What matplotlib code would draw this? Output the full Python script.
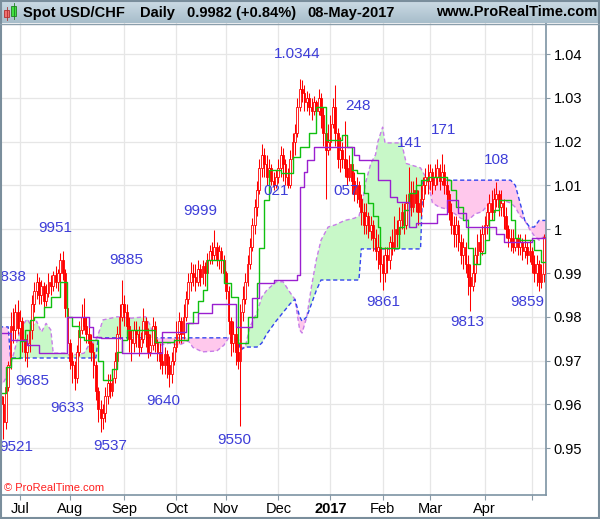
import numpy as np
import matplotlib
matplotlib.use('Agg')
import matplotlib.pyplot as plt
from matplotlib.patches import Rectangle
from matplotlib.colors import LinearSegmentedColormap
import pandas as pd

plt.rcParams['font.family'] = ['Liberation Sans', 'DejaVu Sans']

# ---------------- data (prices in 1e-4 units) ----------------
dates = pd.bdate_range('2016-06-20', '2017-05-08')

opens = [9650,9620,9600,9560,9640,9690,9780,9770,9810,9775,
         9790,9750,9720,9740,9770,9830,9860,9880,9850,9870,
         9835,9855,9880,9870,9895,9880,9900,9930,9900,9820,
         9740,9700,9690,9660,9720,9770,9800,9780,9760,9740,
         9720,9690,9630,9590,9570,9580,9620,9650,9630,9660,
         9700,9760,9800,9830,9810,9780,9750,9740,9770,9760,
         9730,9750,9790,9760,9720,9735,9780,9740,9720,9700,
         9690,9715,9690,9670,9700,9730,9760,9790,9760,9800,
         9840,9880,9900,9890,9880,9910,9890,9915,9900,9930,
         9950,9940,9960,9930,9950,9930,9900,9860,9790,9740,
         9760,9720,9700,9810,9840,9880,9920,9960,10010,10050,
         10090,10140,10170,10150,10120,10140,10110,10100,10120,10140,
         10170,10150,10120,10100,10160,10200,10220,10280,10320,10310,
         10290,10300,10280,10270,10290,10270,10300,10260,10220,10180,
         10200,10240,10280,10220,10160,10180,10160,10140,10120,10150,
         10110,10080,10100,10070,10040,10010,10030,9995,10010,9980,
         9950,9960,9920,9900,9940,9930,9970,9960,10000,9990,
         10020,10040,10010,10060,10080,10050,10090,10060,10040,10070,
         10100,10120,10110,10130,10100,10120,10140,10110,10130,10100,
         10080,10040,10010,9990,10010,9970,9940,9960,9920,9890,
         9870,9900,9940,9970,9950,9990,10010,10040,10060,10040,
         10070,10080,10050,10060,10030,10000,9980,9970,9960,9980,
         9960,9970,9950,9960,9940,9950,9920,9900,9920,9880,
         9897]
closes = [9620,9600,9560,9640,9690,9780,9770,9810,9775,9790,
          9750,9720,9740,9770,9830,9860,9880,9850,9870,9835,
          9855,9880,9870,9895,9880,9900,9930,9900,9820,9740,
          9700,9690,9660,9720,9770,9800,9780,9760,9740,9720,
          9690,9630,9590,9570,9580,9620,9650,9630,9660,9700,
          9760,9800,9830,9810,9780,9750,9740,9770,9760,9730,
          9750,9790,9760,9720,9735,9780,9740,9720,9700,9690,
          9715,9690,9670,9700,9730,9760,9790,9760,9800,9840,
          9880,9900,9890,9880,9910,9890,9915,9900,9930,9950,
          9940,9960,9930,9950,9930,9900,9860,9790,9740,9760,
          9720,9700,9810,9840,9880,9920,9960,10010,10050,10090,
          10140,10170,10150,10120,10140,10110,10100,10120,10140,10170,
          10150,10120,10100,10160,10200,10220,10280,10320,10310,10290,
          10300,10280,10270,10290,10270,10300,10260,10220,10180,10200,
          10240,10280,10220,10160,10180,10160,10140,10120,10150,10110,
          10080,10100,10070,10040,10010,10030,9995,10010,9980,9950,
          9960,9920,9900,9940,9930,9970,9960,10000,9990,10020,
          10040,10010,10060,10080,10050,10090,10060,10040,10070,10100,
          10120,10110,10130,10100,10120,10140,10110,10130,10100,10080,
          10040,10010,9990,10010,9970,9940,9960,9920,9890,9870,
          9900,9940,9970,9950,9990,10010,10040,10060,10040,10070,
          10080,10050,10060,10030,10000,9980,9970,9960,9980,9960,
          9970,9950,9960,9940,9950,9920,9900,9920,9880,9897,
          9982]
highs = [9665,9640,9620,9660,9700,9810,9820,9830,9838,9815,
         9800,9765,9760,9785,9850,9880,9900,9890,9885,9880,
         9875,9900,9895,9905,9915,9910,9945,9951,9910,9830,
         9750,9720,9700,9735,9790,9830,9843,9800,9790,9760,
         9740,9700,9640,9610,9600,9640,9670,9670,9680,9720,
         9780,9830,9885,9850,9830,9800,9770,9790,9790,9780,
         9765,9820,9800,9775,9760,9800,9790,9750,9740,9720,
         9730,9725,9710,9720,9750,9790,9810,9800,9830,9860,
         9900,9925,9920,9920,9930,9920,9930,9925,9945,9965,
         9970,9999,9970,9965,9960,9940,9905,9870,9800,9790,
         9780,9750,9830,9870,9900,9940,9980,10025,10070,10110,
         10160,10195,10185,10170,10160,10150,10130,10135,10160,10190,
         10185,10160,10140,10180,10220,10240,10300,10344,10340,10330,
         10315,10310,10300,10305,10295,10320,10310,10280,10250,10240,
         10260,10300,10330,10230,10210,10200,10248,10160,10170,10160,
         10130,10120,10110,10080,10060,10060,10040,10030,10020,10000,
         9990,9970,9940,9960,9960,9985,10000,10030,10020,10050,
         10060,10060,10080,10141,10110,10110,10120,10090,10100,10120,
         10140,10150,10150,10140,10150,10160,10150,10171,10150,10120,
         10090,10060,10030,10030,10020,9990,9980,9970,9940,9920,
         9930,9960,9990,10000,10010,10030,10060,10080,10090,10095,
         10108,10090,10090,10070,10050,10010,10000,10000,9995,9990,
         9990,9980,9990,9970,9975,9960,9940,9940,9930,9920,
         9990]
lows = [9600,9580,9521,9545,9630,9680,9740,9750,9760,9740,
        9720,9700,9685,9720,9750,9810,9840,9830,9830,9820,
        9825,9845,9850,9860,9865,9860,9880,9885,9800,9720,
        9680,9650,9633,9650,9710,9760,9770,9740,9720,9700,
        9660,9610,9560,9537,9545,9560,9600,9615,9620,9650,
        9690,9750,9790,9780,9760,9720,9700,9720,9730,9710,
        9720,9740,9730,9705,9710,9725,9720,9700,9680,9670,
        9670,9660,9640,9650,9690,9720,9740,9740,9750,9790,
        9830,9860,9870,9860,9870,9870,9875,9870,9890,9920,
        9920,9930,9915,9910,9900,9880,9840,9760,9710,9720,
        9690,9680,9550,9790,9830,9870,9910,9950,9990,10030,
        10080,10120,10120,10100,10105,10100,10090,10095,10105,10120,
        10110,10100,10095,10095,10140,10170,10210,10270,10290,10270,
        10270,10260,10250,10260,10250,10260,10230,10190,10070,10170,
        10180,10230,10190,10140,10130,10140,10120,10100,10110,10080,
        10065,10060,10050,10010,9990,9990,9980,9975,9950,9930,
        9910,9880,9861,9880,9900,9910,9940,9950,9960,9980,
        10000,9990,10000,10040,10030,10040,10040,10010,10030,10050,
        10080,10080,10090,10080,10090,10100,10090,10100,10080,10060,
        10020,9990,9960,9960,9950,9920,9910,9900,9850,9813,
        9860,9880,9920,9930,9940,9970,9990,10020,10020,10030,
        10050,10030,10030,10000,9980,9960,9950,9945,9950,9940,
        9940,9930,9935,9920,9925,9900,9880,9870,9859,9865,
        9880]

# Ichimoku lines (bar index, value)
tenkan_idx = [0,3,5,9,11,13,15,19,22,26,29,31,34,36,42,44,48,50,52,54,66,74,80,82,84,86,88,95,98,101,
              105,109,110,112,114,119,124,127,131,134,138,145,147,149,151,154,156,158,160,161,169,171,173,
              176,178,181,189,191,193,196,198,200,203,205,207,209,211,216,218,220,226,229,231]
tenkan_val = [.9625,.9685,.9706,.9745,.9770,.9793,.9800,.9822,.9845,.9879,.9800,.9780,.9754,.9747,.9700,
              .9656,.9680,.9720,.9747,.9770,.9742,.9747,.9786,.9810,.9835,.9861,.9930,.9877,.9845,.9740,
              .9800,.9877,.9957,1.0067,1.0135,1.0128,1.0165,1.0188,1.0220,1.0279,1.0204,1.0215,1.0188,
              1.0135,1.0128,1.0083,1.0060,1.0030,1.0005,.9957,1.0005,1.0044,1.0083,1.0100,1.0112,1.0119,
              1.0112,1.0090,1.0050,1.0020,.9956,.9920,.9945,.9975,1.0020,1.0045,1.0067,1.0020,.9980,.9975,
              .9953,.9925,.9925]
kijun_idx = [0,5,12,17,29,38,40,43,52,69,79,84,90,100,107,110,116,126,127,129,130,133,150,152,160,165,
             168,173,176,185,189,194,197,210,213,225,231]
kijun_val = [.9763,.9747,.9735,.9717,.9800,.9777,.9754,.9752,.9717,.9765,.9786,.9808,.9829,.9777,.9843,
             .9877,.9884,.9895,1.0096,1.0130,1.0158,1.0188,1.0170,1.0158,1.0112,1.0074,1.0063,1.0005,
             1.0014,1.0035,1.0067,1.0037,1.0005,.9990,.9971,.9980,.9980]
cloud_idx = [0,2,4,5,6,8,10,12,14,16,18,20,22,23,28,30,36,38,41,42,44,50,56,62,64,66,68,72,76,80,82,86,
             92,95,97,101,102,104,106,109,111,113,117,120,123,125,127,128,130,132,134,136,139,142,146,150,
             152,153,155,157,159,160,162,163,170,172,178,179,181,183,186,190,195,198,201,204,207,212,216,
             218,220,222,224,226,228,231]
span_a = [.9638,.9650,.9670,.9690,.9710,.9750,.9780,.9795,.9777,.9790,.9765,.9785,.9770,.9717,.9717,.9712,
          .9717,.9735,.9747,.9760,.9793,.9800,.9797,.9800,.9780,.9745,.9735,.9740,.9735,.9745,.9730,.9720,
          .9722,.9735,.9752,.9745,.9730,.9730,.9777,.9810,.9845,.9860,.9880,.9880,.9855,.9840,.9770,.9763,
          .9800,.9870,.9930,.9975,1.0005,1.0010,1.0020,1.0025,1.0030,1.0050,1.0110,1.0150,1.0170,1.0200,
          1.0233,1.0197,1.0197,1.0150,1.0140,1.0130,1.0112,1.0060,1.0050,1.0045,1.0025,1.0020,1.0035,
          1.0040,1.0060,1.0067,1.0060,1.0050,1.0030,1.0020,1.0000,.9985,.9975,.9987]
span_b = [.9777,.9777,.9777,.9706,.9706,.9706,.9706,.9706,.9706,.9706,.9706,.9706,.9706,.9706,.9706,.9706,
          .9706,.9706,.9706,.9752,.9752,.9752,.9752,.9752,.9752,.9752,.9752,.9752,.9752,.9752,.9752,.9752,
          .9752,.9752,.9752,.9752,.9724,.9731,.9731,.9731,.9740,.9760,.9790,.9810,.9830,.9840,.9800,.9790,
          .9800,.9830,.9860,.9884,.9884,.9884,.9884,.9884,.9884,.9955,.9955,.9955,.9955,.9955,.9955,.9955,
          .9955,.9955,.9955,1.0112,1.0112,1.0112,1.0112,1.0112,1.0112,1.0112,1.0112,1.0112,1.0112,1.0112,
          1.0112,1.0100,1.0060,1.0020,1.0005,1.0005,1.0020,1.0020]

# swing labels: text, bar index, price, alignment
swing_text = ['9838','9951','9685','9633','9521','9537','9885','9640','9999','9550','1.0344',
              '021','057','248','141','171','9861','108','9813','9859']
swing_idx = [11.5,23.8,14.0,28.8,7.3,47.0,53.7,69.3,84.9,99.3,125.9,117.0,146.5,151.6,173.5,187.9,
             162.2,210.3,197.6,222.9]
swing_price = [.9891,1.0003,.96534,.95918,.95027,.9505,.99297,.96078,1.00416,.95187,1.0400,1.00872,
               1.00872,1.02813,1.01968,1.02265,.98338,1.0158,.97881,.98338]
swing_ha = ['right'] + ['center'] * 19

month_labels = ['Jul','Aug','Sep','Oct','Nov','Dec','2017','Feb','Mar','Apr','']
y_ticks = [0.95,0.96,0.97,0.98,0.99,1.00,1.01,1.02,1.03,1.04]
y_labels = ['0.95','0.96','0.97','0.98','0.99','1','1.01','1.02','1.03','1.04']

# ---------------- figure ----------------
W, H = 600, 519
fig = plt.figure(figsize=(W/100, H/100), dpi=100)
fig.patch.set_facecolor('white')

ax = fig.add_axes([0, 24/H, 546/W, 472/H])
ax.set_xlim(0.55, 230.93)
ax.set_ylim(0.93932, 1.04708)

o = np.array(opens)/1e4; c = np.array(closes)/1e4
h = np.array(highs)/1e4; l = np.array(lows)/1e4
idx = np.arange(len(c))

# cloud
ci = np.array(cloud_idx, float); sa = np.array(span_a); sb = np.array(span_b)
ax.fill_between(ci, sa, sb, where=sa >= sb, interpolate=True, color='#c8f8c8', lw=0, zorder=1)
ax.fill_between(ci, sa, sb, where=sa < sb, interpolate=True, color='#ffc8ec', lw=0, zorder=1)
ax.plot(ci, sa, color='#c77de8', lw=1.0, ls=(0, (3, 2)), zorder=2)
ax.plot(ci, sb, color='#3344ee', lw=1.0, ls=(0, (3, 2)), zorder=2)

# candles
red = '#ff0000'
ax.vlines(idx, l, h, color=red, lw=0.75, zorder=3)
for i in idx:
    lo, hi = min(o[i], c[i]), max(o[i], c[i])
    up = c[i] >= o[i]
    ax.add_patch(Rectangle((i-0.38, lo), 0.76, max(hi-lo, 0.00008),
                           facecolor='white' if up else red, edgecolor=red, lw=0.6, zorder=3))

ax.plot(tenkan_idx, tenkan_val, color='#10c010', lw=1.0, drawstyle='steps-post', zorder=4)
ax.plot(kijun_idx, kijun_val, color='#9a1fd0', lw=1.0, drawstyle='steps-post', zorder=4)

# swing labels
for t, xi, yp, ha in zip(swing_text, swing_idx, swing_price, swing_ha):
    ax.text(xi, yp, t, color='#3d3dd8', fontsize=11, ha=ha, va='center', zorder=6)

# grid & axes
month_pos = []
seen = set()
for k, d in enumerate(dates):
    key = (d.year, d.month)
    if key not in seen:
        seen.add(key)
        if k > 0:
            month_pos.append(k)
ax.set_xticks(month_pos)
ax.set_xticklabels(month_labels[:len(month_pos)])
for lab in ax.get_xticklabels():
    if lab.get_text() == '2017':
        lab.set_fontweight('bold')
ax.set_yticks(y_ticks)
ax.set_yticklabels(y_labels)
for lab in ax.get_yticklabels():
    if lab.get_text() in ('1', '0.95'):
        lab.set_fontweight('bold')
ax.yaxis.tick_right()
ax.tick_params(axis='both', labelsize=10.5, colors='#8a9aa6', labelcolor='black', width=0.8)
ax.tick_params(axis='x', pad=1.5, length=3.5)
ax.tick_params(axis='y', pad=2.5, length=3)
ax.grid(True, color='#e6e6e6', lw=0.9, zorder=0)
ax.set_axisbelow(True)
for s in ['top', 'left']:
    ax.spines[s].set_visible(False)
for s in ['right', 'bottom']:
    ax.spines[s].set_color('#7d93a3')
    ax.spines[s].set_linewidth(1.2)

# copyright
fig.text(4/W, 1-488/H, '\u00a9 ProRealTime.com', color='#ff2020', fontsize=8, ha='left', va='center')

# title bar
axt = fig.add_axes([0, 1-23/H, 1, 23/H])
axt.set_xlim(0, W); axt.set_ylim(23, 0); axt.axis('off')
grad = np.linspace(0, 1, 50).reshape(-1, 1)
cm = LinearSegmentedColormap.from_list('bar', ['#cddce6', '#a7bdca'])
axt.imshow(grad, extent=(0, W, 23, 0), cmap=cm, aspect='auto')
axt.add_patch(Rectangle((4, 10), 5, 7, facecolor='#f07070', edgecolor='#b03030', lw=0.6))
axt.plot([6.5, 6.5], [7, 20], color='#b03030', lw=0.6)
axt.add_patch(Rectangle((11, 6), 5, 10, facecolor='#40e040', edgecolor='#208020', lw=0.6))
axt.plot([13.5, 13.5], [3, 19], color='#208020', lw=0.6)
tb = dict(fontsize=10.5, fontweight='bold', va='center', ha='left', color='black')
axt.text(23, 12.5, 'Spot USD/CHF', **tb)
axt.text(140, 12.5, 'Daily', **tb)
axt.text(187, 12.5, '0.9982 (+0.84%)', **tb)
axt.text(307, 12.5, '08-May-2017', **tb)
axt.text(597, 12.5, 'www.ProRealTime.com', fontsize=10.5, fontweight='bold', va='center', ha='right')

# frame lines
fig.add_artist(plt.Line2D([0, 1], [1-23.5/H, 1-23.5/H], transform=fig.transFigure, color='#8a9eab', lw=1))
fig.add_artist(Rectangle((0.001, 0.001), 0.997, 0.997, transform=fig.transFigure, fill=False,
                         edgecolor='#7a8e9c', lw=1.5))

fig.savefig('out.png', dpi=100)
